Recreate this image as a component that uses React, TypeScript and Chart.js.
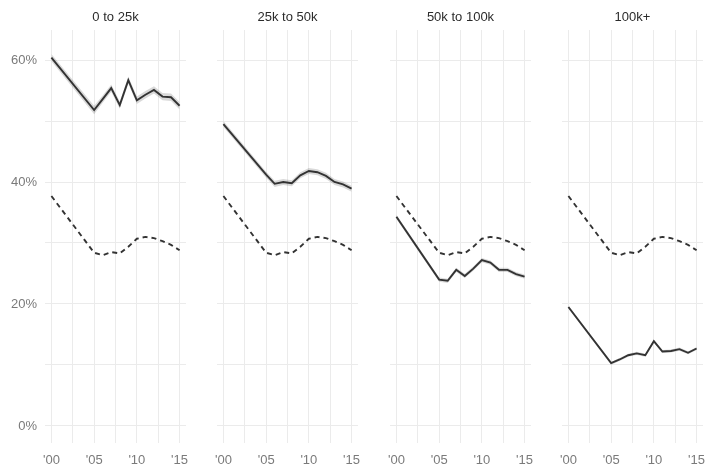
import { useEffect, useRef } from "react";
import { Chart, registerables } from "chart.js";

Chart.register(...registerables);

// Survey years (2001–2004 were not collected)
const years = [2000, 2005, 2006, 2007, 2008, 2009, 2010, 2011, 2012, 2013, 2014, 2015];

const panelTitles = ["0 to 25k", "25k to 50k", "50k to 100k", "100k+"];

// Share for all households (dashed reference line, same in every panel)
const overallShare = [37.7, 28.4, 28.0, 28.5, 28.3, 29.4, 30.7, 31.0, 30.8, 30.3, 29.7, 28.8];

// Share by income group (solid lines)
const share0to25k = [60.4, 51.8, 53.6, 55.4, 52.6, 56.7, 53.4, 54.3, 55.1, 54.0, 53.9, 52.5];
const share25to50k = [49.5, 41.2, 39.7, 40.0, 39.8, 41.1, 41.8, 41.6, 41.0, 40.0, 39.6, 38.9];
const share50to100k = [34.3, 24.0, 23.8, 25.6, 24.6, 25.8, 27.2, 26.8, 25.6, 25.6, 24.9, 24.5];
const share100kPlus = [19.5, 10.3, 10.9, 11.6, 11.9, 11.6, 13.9, 12.2, 12.3, 12.6, 12.0, 12.7];

// Half-width of the confidence band around each group's estimate
const margin0to25k = [0.6, 0.7, 0.6, 0.6, 0.6, 0.6, 0.6, 0.6, 0.6, 0.6, 0.6, 0.6];
const margin25to50k = [0.5, 0.5, 0.5, 0.5, 0.5, 0.5, 0.5, 0.5, 0.5, 0.5, 0.5, 0.5];
const margin50to100k = [0.35, 0.35, 0.35, 0.35, 0.35, 0.35, 0.35, 0.35, 0.35, 0.35, 0.35, 0.35];
const margin100kPlus = [0.25, 0.25, 0.25, 0.25, 0.25, 0.25, 0.25, 0.25, 0.25, 0.25, 0.25, 0.25];

const groupShares = [share0to25k, share25to50k, share50to100k, share100kPlus];
const groupMargins = [margin0to25k, margin25to50k, margin50to100k, margin100kPlus];

// Grid positions and their labels
const yGridValues = [0, 10, 20, 30, 40, 50, 60];
const yTickLabels: Record<number, string> = { 0: "0%", 20: "20%", 40: "40%", 60: "60%" };
const xGridValues = [2000, 2002.5, 2005, 2007.5, 2010, 2012.5, 2015];
const xTickLabels: Record<number, string> = { 2000: "'00", 2005: "'05", 2010: "'10", 2015: "'15" };

const FONT = "'Liberation Sans', Arial, Helvetica, sans-serif";
const GRID = "#ebebeb";
const LINE = "#333333";
const TICK = "#7a7a7a";

const PANEL_STEP = 172.4;
const AXIS_W = 45;
const PLOT_W = 141;
const RIGHT_PAD = 8;
const CANVAS_W = AXIS_W + PLOT_W + RIGHT_PAD;
const CANVAS_H = 466;

const panelTitlePlugin = {
  id: "panelTitle",
  afterDraw(chart: any, _args: any, opts: any) {
    const { ctx, chartArea } = chart;
    ctx.save();
    ctx.font = `13px ${FONT}`;
    ctx.fillStyle = "#2b2b2b";
    ctx.textAlign = "center";
    ctx.textBaseline = "middle";
    ctx.fillText(opts.text, (chartArea.left + chartArea.right) / 2, 17);
    ctx.restore();
  },
};

function Panel({ index }: { index: number }) {
  const ref = useRef<HTMLCanvasElement | null>(null);

  useEffect(() => {
    if (!ref.current) return;
    const shares = groupShares[index];
    const margins = groupMargins[index];
    const pts = (vals: number[]) => years.map((x, i) => ({ x, y: vals[i] }));
    const lower = shares.map((v, i) => v - margins[i]);
    const upper = shares.map((v, i) => v + margins[i]);

    const chart = new Chart(ref.current, {
      type: "line",
      data: {
        datasets: [
          {
            label: panelTitles[index],
            data: pts(shares),
            borderColor: LINE,
            borderWidth: 1.9,
            pointRadius: 0,
            tension: 0,
            fill: false,
          },
          {
            label: "All households",
            data: pts(overallShare),
            borderColor: LINE,
            borderWidth: 1.9,
            borderDash: [5, 4],
            pointRadius: 0,
            tension: 0,
            fill: false,
          },
          {
            label: "lower",
            data: pts(lower),
            borderWidth: 0,
            borderColor: "rgba(0,0,0,0)",
            pointRadius: 0,
            fill: false,
          },
          {
            label: "upper",
            data: pts(upper),
            borderWidth: 0,
            borderColor: "rgba(0,0,0,0)",
            backgroundColor: "rgba(0,0,0,0.15)",
            pointRadius: 0,
            fill: 2,
          },
        ],
      },
      options: {
        responsive: false,
        animation: false,
        devicePixelRatio: 1,
        layout: { padding: { top: 30, right: RIGHT_PAD, bottom: 0, left: 0 } },
        plugins: {
          legend: { display: false },
          tooltip: { enabled: false },
          title: { display: false },
          panelTitle: { text: panelTitles[index] },
        } as any,
        scales: {
          x: {
            type: "linear",
            min: 1999.25,
            max: 2015.75,
            afterBuildTicks: (s: any) => {
              s.ticks = xGridValues.map((value) => ({ value }));
            },
            afterFit: (s: any) => {
              s.height = 23;
              s.paddingLeft = 0;
              s.paddingRight = 0;
            },
            grid: { color: GRID, lineWidth: 1, drawTicks: false },
            border: { display: false },
            ticks: {
              autoSkip: false,
              maxRotation: 0,
              padding: 10,
              color: TICK,
              font: { family: FONT, size: 13 },
              callback: (v: any) => xTickLabels[v as number] ?? "",
            },
          },
          y: {
            type: "linear",
            min: -2.79,
            max: 64.92,
            afterBuildTicks: (s: any) => {
              s.ticks = yGridValues.map((value) => ({ value }));
            },
            afterFit: (s: any) => {
              s.width = AXIS_W;
              s.paddingTop = 0;
              s.paddingBottom = 0;
            },
            grid: { color: GRID, lineWidth: 1, drawTicks: false },
            border: { display: false },
            ticks: {
              display: index === 0,
              autoSkip: false,
              padding: 8,
              color: TICK,
              font: { family: FONT, size: 13 },
              callback: (v: any) => yTickLabels[v as number] ?? "",
            },
          },
        },
      },
      plugins: [panelTitlePlugin],
    });
    return () => chart.destroy();
  }, [index]);

  return (
    <canvas
      ref={ref}
      width={CANVAS_W}
      height={CANVAS_H}
      style={{
        position: "absolute",
        top: 0,
        left: Math.round(index * PANEL_STEP),
        width: CANVAS_W,
        height: CANVAS_H,
      }}
    />
  );
}

export default function App() {
  return (
    <div
      style={{
        position: "fixed",
        left: 0,
        top: 0,
        width: 705,
        height: 466,
        background: "#ffffff",
        overflow: "hidden",
      }}
    >
      {panelTitles.map((_, i) => (
        <Panel key={i} index={i} />
      ))}
    </div>
  );
}
